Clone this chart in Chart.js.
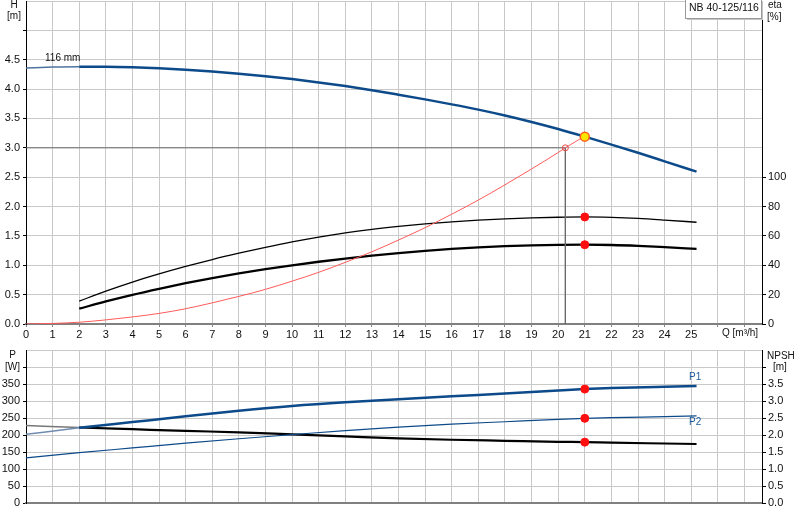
<!DOCTYPE html>
<html>
<head>
<meta charset="utf-8">
<script src="https://cdn.jsdelivr.net/npm/chart.js@4.4.0/dist/chart.umd.min.js"></script>
<style>
  html, body { margin: 0; padding: 0; background: #fff; }
  #wrap { position: relative; width: 800px; height: 520px; }
  #topChart { position: absolute; left: 0; top: 0; }
  #botChart { position: absolute; left: 0; top: 340px; }
</style>
</head>
<body>
<div id="wrap">
  <canvas id="topChart" width="800" height="340"></canvas>
  <canvas id="botChart" width="800" height="180"></canvas>
</div>
<script>
// ---- data ----
// pump head curve, H [m] over Q [m3/h]
const qHead = [0, 1, 2, 3, 4, 5, 6, 7, 8, 9, 10, 11, 12, 13, 14, 15, 16, 17, 18, 19, 20, 21, 22, 23, 24, 25.2];
const head  = [4.36, 4.375, 4.382, 4.381, 4.372, 4.355, 4.33, 4.30, 4.263, 4.22, 4.17, 4.114, 4.052, 3.982, 3.905, 3.825, 3.74, 3.65, 3.55, 3.44, 3.32, 3.19, 3.055, 2.915, 2.77, 2.595];

// system curve (red)
const qSystem = [0, 1, 2, 3, 4, 5, 6, 7, 8, 9, 10, 11, 12, 13, 14, 15, 16, 17, 18, 19, 20, 20.27, 21];
const hSystem = [0, 0.01, 0.03, 0.07, 0.12, 0.18, 0.26, 0.36, 0.47, 0.59, 0.73, 0.88, 1.05, 1.23, 1.43, 1.64, 1.87, 2.11, 2.37, 2.64, 2.92, 3.0, 3.2];

// efficiency curves, eta [%]
const qEta = [2, 3, 4, 5, 6, 7, 8, 9, 10, 11, 12, 13, 14, 15, 16, 17, 18, 19, 20, 21, 22, 23, 24, 25.2];
const etaPump  = [15.6, 22.4, 28.6, 34.1, 39.2, 43.9, 48.2, 52.2, 55.9, 59.2, 62.1, 64.5, 66.5, 68.2, 69.6, 70.7, 71.6, 72.3, 72.7, 72.9, 72.6, 71.9, 70.8, 69.3];
const etaTotal = [10.4, 15.4, 19.9, 24.0, 27.8, 31.3, 34.5, 37.4, 40.0, 42.4, 44.6, 46.6, 48.3, 49.8, 51.1, 52.2, 53.0, 53.6, 53.9, 54.0, 53.8, 53.2, 52.3, 51.1];

// power P [W] and NPSH [m]
const qPower = [0, 2, 4, 6, 8, 10, 12, 14, 16, 18, 20, 21, 22, 24, 25.2];
const powerP1 = [202, 221, 238, 255, 271, 285, 296, 305, 314, 322, 331, 335, 338, 342, 344];
const powerP2 = [133, 148, 162, 176, 189, 201, 213, 223, 232, 239, 246, 249, 251, 254, 256];
const npsh    = [2.28, 2.22, 2.17, 2.12, 2.08, 2.02, 1.96, 1.90, 1.86, 1.83, 1.80, 1.79, 1.775, 1.75, 1.735];

// duty point
const dutyQ = 21, dutyH = 3.19;
const reqQ = 20.27, reqH = 3.0;

// ticks
const hTicksMax = 4.5, etaTicksMax = 100, pTicksMax = 350, npshTicksMax = 3.5, qTicksMax = 25;

// ---- helpers ----
const pts = (xs, ys) => xs.map((x, i) => ({ x: x, y: ys[i] }));
const BLUE = '#0c4a8a';
const GRID = '#c9c9c9';
const FONT_FAMILY = '"Liberation Sans", Arial, sans-serif';

Chart.defaults.font.family = FONT_FAMILY;
Chart.defaults.font.size = 11;
Chart.defaults.color = '#111';

const lineBase = {
  type: 'line',
  pointRadius: 0,
  pointHoverRadius: 0,
  fill: false,
  cubicInterpolationMode: 'monotone'
};

// thinner, paler start of a curve below Q=2
function startSegment(color, width, pale) {
  return {
    borderWidth: c => c.p1.parsed.x <= 2 ? 1.5 : width,
    borderColor: c => c.p1.parsed.x <= 2 ? pale : color
  };
}

// keep the plot area exactly where the axis sizes put it
function fixBox(w, h) {
  return s => {
    if (w !== null) s.width = w;
    if (h !== null) s.height = h;
    s.paddingTop = 0; s.paddingBottom = 0; s.paddingLeft = 0; s.paddingRight = 0;
  };
}

function qAxis(showLabels, height) {
  return {
    type: 'linear',
    min: 0,
    max: 27.66,
    ticks: {
      display: showLabels,
      stepSize: 1,
      includeBounds: false,
      autoSkip: false,
      maxRotation: 0,
      padding: 1,
      callback: v => (Number.isInteger(v) && v <= qTicksMax) ? v : ''
    },
    grid: { color: GRID, lineWidth: 1, drawTicks: showLabels, tickLength: 3, tickColor: '#888' },
    border: { color: '#808080', width: 2 },
    afterFit: fixBox(null, height)
  };
}

function textPlugin(items) {
  return {
    id: 'labels',
    afterDraw(chart) {
      const ctx = chart.ctx;
      ctx.save();
      items.forEach(t => {
        if (t.box) {
          ctx.fillStyle = '#c4c4c4';
          ctx.fillRect(t.box[0] + 2, t.box[1] + 2, t.box[2], t.box[3]);
          ctx.fillStyle = '#fff';
          ctx.fillRect(t.box[0], t.box[1], t.box[2], t.box[3]);
          ctx.strokeStyle = '#9a9a9a';
          ctx.lineWidth = 1;
          ctx.strokeRect(t.box[0] + 0.5, t.box[1] + 0.5, t.box[2], t.box[3]);
        }
        ctx.font = (t.size || 10) + 'px ' + FONT_FAMILY;
        ctx.fillStyle = t.color || '#111';
        ctx.textAlign = t.align || 'left';
        ctx.textBaseline = 'middle';
        ctx.fillText(t.text, t.x, t.y);
      });
      ctx.restore();
    }
  };
}

// ---- upper chart: H / eta ----
new Chart(document.getElementById('topChart'), {
  data: {
    datasets: [
      { type: 'scatter', data: [{ x: dutyQ, y: dutyH }], pointRadius: 4.5, pointBackgroundColor: '#ffe600', pointBorderColor: '#ff5a1e', pointBorderWidth: 1.5, yAxisID: 'y' },
      { type: 'scatter', data: [{ x: reqQ, y: reqH }], pointRadius: 3, pointBackgroundColor: 'rgba(255,255,255,0)', pointBorderColor: '#e84848', pointBorderWidth: 1, yAxisID: 'y' },
      { type: 'scatter', data: [{ x: dutyQ, y: etaPump[19] }, { x: dutyQ, y: etaTotal[19] }], pointRadius: 4, pointBackgroundColor: '#ff1010', pointBorderColor: '#ff1010', yAxisID: 'y2' },
      Object.assign({}, lineBase, { data: pts(qHead, head), borderColor: BLUE, borderWidth: 2.5, yAxisID: 'y', segment: startSegment(BLUE, 2.5, '#4f74a0') }),
      Object.assign({}, lineBase, { data: pts(qSystem, hSystem), borderColor: '#ff5a5a', borderWidth: 1, yAxisID: 'y' }),
      Object.assign({}, lineBase, { data: [{ x: 0, y: reqH }, { x: reqQ, y: reqH }, { x: reqQ, y: 0 }], borderColor: '#6a6a6a', borderWidth: 1, tension: 0, cubicInterpolationMode: 'default', yAxisID: 'y' }),
      Object.assign({}, lineBase, { data: pts(qEta, etaPump), borderColor: '#000', borderWidth: 1.3, yAxisID: 'y2' }),
      Object.assign({}, lineBase, { data: pts(qEta, etaTotal), borderColor: '#000', borderWidth: 2.3, yAxisID: 'y2' })
    ]
  },
  options: {
    responsive: false,
    animation: false,
    events: [],
    layout: { autoPadding: false, padding: { top: 1, left: 0, right: 0, bottom: 0 } },
    plugins: { legend: { display: false }, tooltip: { enabled: false } },
    scales: {
      x: qAxis(true, 16),
      y: {
        type: 'linear',
        position: 'left',
        min: 0,
        max: 5.5,
        ticks: { stepSize: 0.5, padding: 3, callback: v => v <= hTicksMax ? v.toFixed(1) : '' },
        grid: { color: GRID, lineWidth: 1, tickLength: 3, tickColor: c => (c.tick && c.tick.value > 5) ? 'rgba(0,0,0,0)' : '#000' },
        border: { color: '#000', width: 1 },
        afterFit: fixBox(26, null)
      },
      y2: {
        type: 'linear',
        position: 'right',
        min: 0,
        max: 220,
        ticks: { stepSize: 20, padding: 2, callback: v => v },
        afterBuildTicks: s => { s.ticks = s.ticks.filter(t => t.value <= etaTicksMax); },
        grid: { drawOnChartArea: false, tickLength: 4, tickColor: '#000' },
        border: { color: '#000', width: 1 },
        afterFit: fixBox(38, null)
      }
    }
  },
  plugins: [textPlugin([
    { text: 'H', x: 14, y: 5, align: 'center' },
    { text: '[m]', x: 14, y: 16.5, align: 'center' },
    { text: 'eta', x: 768, y: 5 },
    { text: '[%]', x: 767, y: 17 },
    { text: '116 mm', x: 45, y: 58 },
    { text: 'NB 40-125/116', x: 689, y: 8.5, size: 10.5, box: [685, -1, 76, 19] },
    { text: 'Q [m\u00B3/h]', x: 722, y: 333.5 }
  ])]
});

// ---- lower chart: P / NPSH ----
new Chart(document.getElementById('botChart'), {
  data: {
    datasets: [
      { type: 'scatter', data: [{ x: dutyQ, y: powerP1[11] }, { x: dutyQ, y: powerP2[11] }], pointRadius: 4, pointBackgroundColor: '#ff1010', pointBorderColor: '#ff1010', yAxisID: 'y' },
      { type: 'scatter', data: [{ x: dutyQ, y: npsh[11] }], pointRadius: 4, pointBackgroundColor: '#ff1010', pointBorderColor: '#ff1010', yAxisID: 'y2' },
      Object.assign({}, lineBase, { data: pts(qPower, powerP1), borderColor: BLUE, borderWidth: 2.5, yAxisID: 'y', segment: startSegment(BLUE, 2.5, '#6f8cb0') }),
      Object.assign({}, lineBase, { data: pts(qPower, powerP2), borderColor: BLUE, borderWidth: 1.2, yAxisID: 'y' }),
      Object.assign({}, lineBase, { data: pts(qPower, npsh), borderColor: '#000', borderWidth: 2.2, yAxisID: 'y2', segment: startSegment('#000', 2.2, '#777') })
    ]
  },
  options: {
    responsive: false,
    animation: false,
    events: [],
    layout: { autoPadding: false, padding: { top: 10, left: 0, right: 0, bottom: 0 } },
    plugins: { legend: { display: false }, tooltip: { enabled: false } },
    scales: {
      x: qAxis(false, 17),
      y: {
        type: 'linear',
        position: 'left',
        min: 0,
        max: 450,
        ticks: { stepSize: 50, padding: 3, callback: v => v <= pTicksMax ? v : '' },
        grid: { color: GRID, lineWidth: 1, tickLength: 3, tickColor: c => (c.tick && c.tick.value > 400) ? 'rgba(0,0,0,0)' : '#000' },
        border: { color: '#000', width: 1 },
        afterFit: fixBox(26, null)
      },
      y2: {
        type: 'linear',
        position: 'right',
        min: 0,
        max: 4.5,
        ticks: { stepSize: 0.5, padding: 2, callback: v => v <= npshTicksMax ? v.toFixed(1) : '' },
        afterBuildTicks: s => { s.ticks = s.ticks.filter(t => t.value <= 4.0); },
        grid: { drawOnChartArea: false, tickLength: 4, tickColor: '#000' },
        border: { color: '#000', width: 1 },
        afterFit: fixBox(38, null)
      }
    }
  },
  plugins: [textPlugin([
    { text: 'P', x: 12.5, y: 15.5, align: 'center' },
    { text: '[W]', x: 20, y: 27.5, align: 'right' },
    { text: 'NPSH', x: 767, y: 16 },
    { text: '[m]', x: 773, y: 27.5 },
    { text: 'P1', x: 689, y: 37.5, color: '#1b5a9c' },
    { text: 'P2', x: 689, y: 82.5, color: '#1b5a9c' }
  ])]
});
</script>
</body>
</html>
